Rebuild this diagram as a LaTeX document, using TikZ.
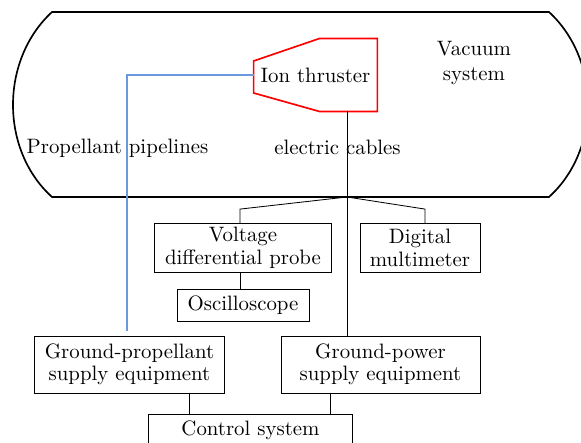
\documentclass[tikz,border=0pt]{standalone}
\usetikzlibrary{calc,positioning}
\definecolor{pipeblue}{RGB}{108,152,222}
\tikzset{
  box/.style={draw, thin, align=center, inner sep=0pt, font=\fontsize{10}{10.8}\selectfont},
  wire/.style={thin},
  pipe/.style={thick, pipeblue},
  chamber/.style={thick},
  thrusterline/.style={thick, red},
}
\begin{document}
\begin{tikzpicture}[x=0.48pt,y=-0.48pt]
        \useasboundingbox (0,0) rectangle (581,443);
        \draw[chamber] (52,12) -- (549,12) .. controls (601,60) and (601,150) .. (549,197)
            -- (52,197) .. controls (0,150) and (0,60) .. cycle;

        \node[minimum width=59pt, minimum height=34.6pt, inner sep=0pt] (thr) at (315.5,75) {Ion thruster};
        \draw[thrusterline] (thr.north east) -- (thr.south east) -- ($(thr.south east)+(-58,0)$)
            -- ($(thr.west)+(0,18)$) -- ($(thr.west)+(0,-14)$) -- ($(thr.north east)+(-58,0)$) -- cycle;

        \node[align=center] (vac) at (474,63) {Vacuum\\system};
        \node (pipelbl) at (117.5,148) {Propellant pipelines};
        \node (cablelbl) at (337.5,147) {electric cables};

        \node[box, minimum width=85.2pt, minimum height=23.5pt] (probe) at (243,248) {Voltage\\differential probe};
        \node[box, minimum width=57.6pt, minimum height=23.5pt] (dmm) at (420,248) {Digital\\multimeter};
        \node[box, minimum width=63.4pt, minimum height=15.4pt] (osc) at (243,305) {Oscilloscope};
        \node[box, minimum width=91.2pt, minimum height=27.4pt] (gp) at (129.5,364.5) {Ground-propellant\\supply equipment};
        \node[box, minimum width=95.5pt, minimum height=27.4pt] (gpow) at (380.5,364.5) {Ground-power\\supply equipment};
        \node[box, minimum width=97.7pt, minimum height=15.4pt] (ctrl) at (250.5,430) {Control system};

        \coordinate (hub) at (347,197);
        \draw[pipe, shorten >=2pt] (thr.west) -| ([xshift=-1.2pt]gp.north);
        \draw[wire] (hub |- thr.south) -- (hub |- gpow.north);
        \draw[wire] (hub) -- ($(probe.north)+(-3,-14)$) -- ([xshift=-1.44pt]probe.north);
        \draw[wire] (hub) -- ($(dmm.north)+(5,-14)$) -- ([xshift=2.4pt]dmm.north);
        \draw[wire] ([xshift=-1.44pt]probe.south) -- ([xshift=-1.44pt]osc.north);
        \draw[wire] ([xshift=28.6pt]gp.south) -- ([xshift=28.6pt]gp.south |- ctrl.north);
        \draw[wire] ([xshift=-23.8pt]gpow.south) -- ([xshift=-23.8pt]gpow.south |- ctrl.north);
    \end{tikzpicture}
\end{document}
